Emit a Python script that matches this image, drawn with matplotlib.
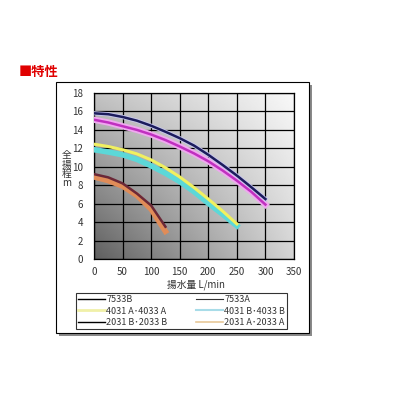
import numpy as np
import matplotlib
matplotlib.use("Agg")
import matplotlib.pyplot as plt
from matplotlib.lines import Line2D
from matplotlib.patches import Rectangle

plt.rcParams['font.family'] = ['Noto Sans CJK JP', 'DejaVu Sans']

# ---- data ----
flow_long = [0, 25, 50, 75, 100, 125, 150, 175, 200, 225, 250, 275, 300]
head_7533B = [15.8, 15.7, 15.4, 15.0, 14.45, 13.8, 13.1, 12.3, 11.3, 10.2, 9.05, 7.8, 6.5]
head_7533A = [15.1, 14.8, 14.4, 14.0, 13.5, 12.9, 12.2, 11.45, 10.6, 9.6, 8.5, 7.3, 5.9]

flow_mid = [0, 25, 50, 75, 100, 125, 150, 175, 200, 225, 250]
head_4031A = [12.45, 12.2, 11.85, 11.4, 10.75, 9.9, 8.9, 7.75, 6.5, 5.2, 3.8]
head_4031B = [11.85, 11.6, 11.3, 10.8, 10.1, 9.3, 8.4, 7.3, 6.05, 4.85, 3.6]

flow_short = [0, 25, 50, 75, 100, 125]
head_2031B = [9.2, 8.85, 8.2, 7.1, 5.8, 3.5]
head_2031A = [8.9, 8.5, 7.9, 6.9, 5.4, 3.0]

labels = ["7533B", "7533A", "4031 A･4033 A", "4031 B･4033 B",
          "2031 B･2033 B", "2031 A･2033 A"]
x_ticks = [0, 50, 100, 150, 200, 250, 300, 350]
y_ticks = [0, 2, 4, 6, 8, 10, 12, 14, 16, 18]
title_text = "■特性"
xlabel_text = "揚水量 L/min"
ylabel_chars = ["全", "揚", "程", "m"]

W = H = 399
fig = plt.figure(figsize=(3.99, 3.99), dpi=100)
fig.patch.set_facecolor("white")

def fx(px):
    return px / W

def fy(py):
    return 1 - py / H

# outer frame with shadow
fig.patches.append(Rectangle((fx(59), fy(336)), fx(253), 251 / H, transform=fig.transFigure,
                             facecolor="#8a8a8a", edgecolor="none", zorder=0))
fig.patches.append(Rectangle((fx(56), fy(333)), fx(253), 251 / H, transform=fig.transFigure,
                             facecolor="white", edgecolor="black", linewidth=0.8, zorder=0.5))

ax = fig.add_axes([fx(94), fy(259), fx(200), 166 / H])
ax.set_zorder(2)

# gradient background
gx = np.linspace(0, 1, 200)
gy = np.linspace(0, 1, 200)
GX, GY = np.meshgrid(gx, gy)
tl, tr, bl, br = 195, 248, 95, 212
val = (bl * (1 - GX) * (1 - GY) + br * GX * (1 - GY) + tl * (1 - GX) * GY + tr * GX * GY) / 255
ax.imshow(val, cmap="gray", vmin=0, vmax=1, origin="lower", extent=[0, 1, 0, 1],
          transform=ax.transAxes, aspect="auto", zorder=0, interpolation="bilinear")

ax.set_xlim(0, 350)
ax.set_ylim(0, 18)
ax.set_xticks(x_ticks)
ax.set_yticks(y_ticks)
ax.grid(True, color="black", linewidth=0.9, zorder=1)
ax.set_axisbelow(False)
for s in ax.spines.values():
    s.set_color("black")
    s.set_linewidth(0.9)
ax.tick_params(length=0, labelsize=7, colors="#333333", pad=8)
ax.tick_params(axis="x", pad=6)

# curves
ax.plot(flow_long, head_7533A, color="#f0a8f0", linewidth=4.5, zorder=3)
ax.plot(flow_long, head_7533A, color="#c030c0", linewidth=1.8, zorder=4)
ax.plot(flow_long, head_7533B, color="#c8c8f0", linewidth=3.0, zorder=3)
ax.plot(flow_long, head_7533B, color="#1c1c5c", linewidth=1.8, zorder=5)
ax.plot(flow_mid, head_4031B, color="#5cd8d8", linewidth=4.0, zorder=3)
ax.plot(flow_mid, head_4031A, color="#f0f060", linewidth=2.2, zorder=4)
ax.plot(flow_short, head_2031A, color="#e08c58", linewidth=4.0, zorder=3)
ax.plot(flow_short, head_2031B, color="#6a2838", linewidth=1.8, zorder=4)

fig.text(fx(196), fy(285), xlabel_text, fontsize=7, color="#333333", ha="center", va="center")
for i, ch in enumerate(ylabel_chars):
    fig.text(fx(67), fy(155 + 9.5 * i), ch, fontsize=7, color="#333333",
             ha="center", va="center")

fig.text(fx(19), fy(72), title_text, color="#e00000", fontsize=9.5, fontweight="bold",
         va="center", ha="left")

# legend (row-wise order: matplotlib fills columns first)
leg_colors = ["#000000", "#333333", "#f0f0a8", "#a8dce8", "#000000", "#e8c898"]
leg_widths = [1.0, 0.8, 2.0, 1.5, 1.0, 1.2]
handles = [Line2D([0], [0], color=c, linewidth=w) for c, w in zip(leg_colors, leg_widths)]
order = [0, 2, 4, 1, 3, 5]
leg = fig.legend([handles[i] for i in order], [labels[i] for i in order], ncol=2,
                 loc="upper left",
                 bbox_to_anchor=(fx(76), fy(293)), bbox_transform=fig.transFigure,
                 fontsize=6.5, frameon=True, fancybox=False, handlelength=3.0,
                 handletextpad=0.1, columnspacing=3.2, labelspacing=0.25,
                 borderpad=0.25, borderaxespad=0)
leg.get_frame().set_edgecolor("black")
leg.get_frame().set_linewidth(0.8)
for t in leg.get_texts():
    t.set_color("#333333")

fig.savefig("out.png", dpi=100, facecolor="white")
